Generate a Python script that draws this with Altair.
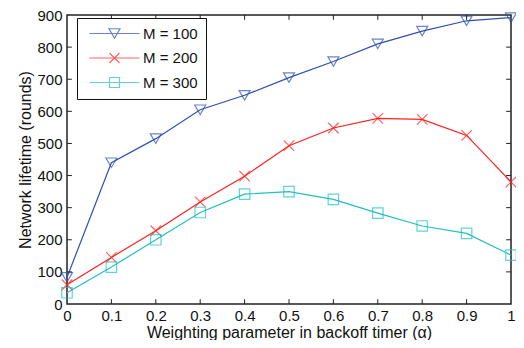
import altair as alt
import pandas as pd

alpha = [0.0, 0.1, 0.2, 0.3, 0.4, 0.5, 0.6, 0.7, 0.8, 0.9, 1.0]
m100 = [83, 440, 515, 605, 650, 705, 755, 810, 850, 882, 892]
m200 = [60, 145, 228, 318, 398, 493, 548, 578, 575, 525, 380]
m300 = [35, 115, 200, 285, 342, 350, 326, 283, 243, 220, 152]
series = ["M = 100", "M = 200", "M = 300"]
colors = ["#3050B0", "#FF2020", "#20C0C0"]
x_ticks = [0.0, 0.1, 0.2, 0.3, 0.4, 0.5, 0.6, 0.7, 0.8, 0.9, 1.0]
y_ticks = [0, 100, 200, 300, 400, 500, 600, 700, 800, 900]

rows = []
for name, vals in zip(series, [m100, m200, m300]):
    for a, v in zip(alpha, vals):
        rows.append({"alpha": a, "life": v, "series": name})
df = pd.DataFrame(rows)

marker_paths = [
    "M-1.05,-0.9L1.05,-0.9L0,0.9Z",
    "M-1,-1L1,1M-1,1L1,-1",
    "M-1,-1L1,-1L1,1L-1,1Z",
]
legend_paths = [
    "M-0.6,0L9.4,0M3.3,-0.95L5.5,-0.95L4.4,0.95Z",
    "M-0.6,0L9.4,0M3.4,-1L5.4,1M3.4,1L5.4,-1",
    "M-0.6,0L9.4,0M3.4,-1L5.4,-1L5.4,1L3.4,1Z",
]

xs = alt.Scale(domain=[0, 1], nice=False, zero=False)
ys = alt.Scale(domain=[0, 900], nice=False)
cs = alt.Scale(domain=series, range=colors)

xaxis = alt.Axis(values=x_ticks, tickCount=11, format="~g", title="Weighting parameter in backoff timer (α)",
                 tickSize=0, labelPadding=4, titlePadding=1, domain=False, grid=False,
                 labelOverlap=False, labelFlush=False, labelBound=False)
yaxis = alt.Axis(values=y_ticks, tickCount=10, title="Network lifetime (rounds)",
                 tickSize=0, labelPadding=5, titlePadding=3, domain=False, grid=False,
                 labelOverlap=False, labelFlush=False, labelBound=False)

leg = alt.Legend(title=None, orient="none", legendX=10, legendY=3,
                 strokeColor="#111", fillColor="white", padding=8,
                 symbolSize=100, symbolStrokeWidth=1.2, symbolFillColor="transparent",
                 labelFontSize=15, labelFont="Liberation Sans", labelColor="#111",
                 rowPadding=8.5, labelOffset=43)

base = alt.Chart(df)

lines = base.mark_line(strokeWidth=1.2, clip=False).encode(
    x=alt.X("alpha:Q", scale=xs, axis=xaxis),
    y=alt.Y("life:Q", scale=ys, axis=yaxis),
    color=alt.Color("series:N", scale=cs, legend=leg),
)

point_layers = []
for name, path in zip(series, marker_paths):
    point_layers.append(
        base.transform_filter(alt.datum.series == name)
        .mark_point(filled=False, strokeWidth=1.2, size=110, clip=False, shape=path)
        .encode(x=alt.X("alpha:Q", axis=xaxis), y=alt.Y("life:Q", axis=yaxis),
                color=alt.Color("series:N", scale=cs, legend=leg))
    )

legend_layer = base.transform_filter("false").mark_point(filled=False, strokeWidth=1.2).encode(
    x=alt.X("alpha:Q", axis=xaxis),
    y=alt.Y("life:Q", axis=yaxis),
    color=alt.Color("series:N", scale=cs, legend=leg),
    shape=alt.Shape("series:N", scale=alt.Scale(domain=series, range=legend_paths), legend=leg),
)

tdx = 0.011
tdy = 15
tick_x = pd.DataFrame({"t": x_ticks[1:-1], "lo": [0] * 9, "lo2": [tdy] * 9,
                       "hi": [900] * 9, "hi2": [900 - tdy] * 9})
tick_y = pd.DataFrame({"t": y_ticks[1:-1], "lo": [0] * 8, "lo2": [tdx] * 8,
                       "hi": [1] * 8, "hi2": [1 - tdx] * 8})
tick_color = "#222"
bx = alt.Chart(tick_x).mark_rule(color=tick_color, strokeWidth=1).encode(
    x=alt.X("t:Q", axis=xaxis), y=alt.Y("lo:Q", axis=yaxis), y2="lo2:Q")
tx = alt.Chart(tick_x).mark_rule(color=tick_color, strokeWidth=1).encode(
    x=alt.X("t:Q", axis=xaxis), y=alt.Y("hi:Q", axis=yaxis), y2="hi2:Q")
ly = alt.Chart(tick_y).mark_rule(color=tick_color, strokeWidth=1).encode(
    y=alt.Y("t:Q", axis=yaxis), x=alt.X("lo:Q", axis=xaxis), x2="lo2:Q")
ry = alt.Chart(tick_y).mark_rule(color=tick_color, strokeWidth=1).encode(
    y=alt.Y("t:Q", axis=yaxis), x=alt.X("hi:Q", axis=xaxis), x2="hi2:Q")

chart = alt.layer(lines, *point_layers, legend_layer, bx, tx, ly, ry).properties(
    width=444, height=289,
    autosize=alt.AutoSizeParams(type="none"),
    padding={"left": 59, "top": 7, "right": 5, "bottom": 36},
).configure_view(
    stroke="#222", strokeWidth=1.5
).configure_axis(
    labelFont="Liberation Sans", titleFont="Liberation Sans",
    labelFontSize=15, titleFontSize=16, labelColor="#111", titleColor="#111",
    titleFontWeight="normal", labelOverlap=False,
)

chart.save("out.html", embed_options={"renderer": "svg", "actions": False})
